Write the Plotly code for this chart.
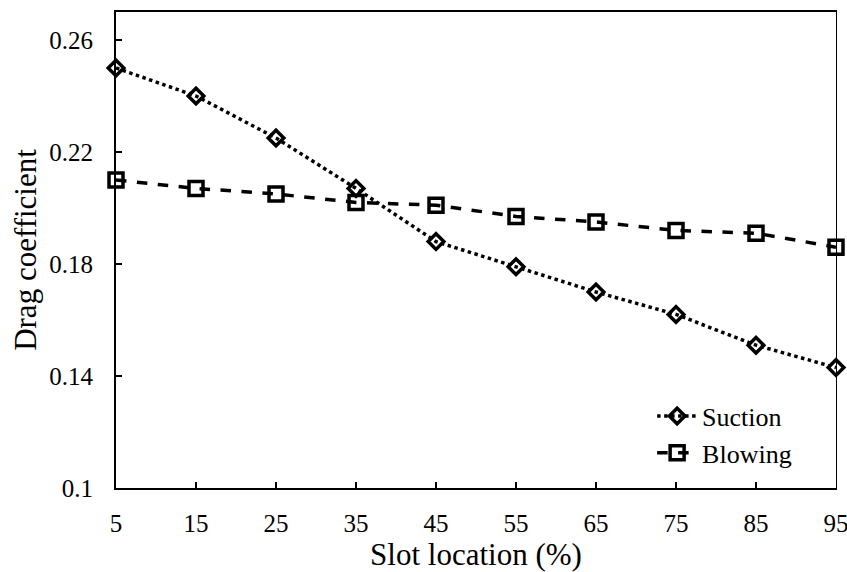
import plotly.graph_objects as go

slot_location = [5, 15, 25, 35, 45, 55, 65, 75, 85, 95]
suction = [0.250, 0.240, 0.225, 0.207, 0.188, 0.179, 0.170, 0.162, 0.151, 0.143]
blowing = [0.210, 0.207, 0.205, 0.202, 0.201, 0.197, 0.195, 0.192, 0.191, 0.186]
y_ticks = [0.10, 0.14, 0.18, 0.22, 0.26]
y_tick_labels = ["0.1", "0.14", "0.18", "0.22", "0.26"]

font_family = "Liberation Serif"

fig = go.Figure()
fig.add_trace(go.Scatter(
    x=slot_location, y=suction, name="Suction", mode="lines+markers",
    line=dict(color="black", width=3.5, dash="dot"),
    marker=dict(symbol="diamond-open", size=12, color="black", line=dict(width=3.5, color="black")),
    cliponaxis=False,
))
fig.add_trace(go.Scatter(
    x=slot_location, y=blowing, name="Blowing", mode="lines+markers",
    line=dict(color="black", width=3.5, dash="dash"),
    marker=dict(symbol="square-open", size=14, color="black", line=dict(width=3.5, color="black")),
    cliponaxis=False,
))
# empty trace to activate the border (top/right) axes
fig.add_trace(go.Scatter(x=[None], y=[None], xaxis="x2", yaxis="y2", showlegend=False, hoverinfo="skip"))

fig.update_layout(
    width=847, height=572,
    margin=dict(l=116, r=11, t=12, b=84),
    paper_bgcolor="white", plot_bgcolor="white",
    font=dict(family=font_family, size=25, color="black"),
    showlegend=True,
    legend=dict(x=0.946, y=0.024, xanchor="right", yanchor="bottom",
                bgcolor="rgba(0,0,0,0)", font=dict(family=font_family, size=26), tracegroupgap=0,
                itemwidth=40),
    xaxis=dict(
        range=[5, 95], tickvals=slot_location, ticks="inside", ticklen=6, tickwidth=2,
        tickcolor="black", showline=True, linecolor="black", linewidth=2,
        showgrid=False, zeroline=False, ticklabelstandoff=12, ticklabeloverflow="allow",
        automargin=False,
        tickfont=dict(family=font_family, size=25),
        title=dict(text="Slot location (%)", font=dict(family=font_family, size=31), standoff=9),
    ),
    xaxis2=dict(overlaying="x", side="top", showline=True, linecolor="black", linewidth=2,
                showticklabels=False, ticks="", showgrid=False, zeroline=False, range=[5, 95],
                automargin=False),
    yaxis=dict(
        range=[0.10, 0.27], tickvals=y_ticks, ticktext=y_tick_labels, ticks="inside",
        ticklen=6, tickwidth=2, tickcolor="black", showline=True, linecolor="black",
        linewidth=2, showgrid=False, zeroline=False, ticklabelstandoff=16, automargin=False,
        tickfont=dict(family=font_family, size=25),
        title=dict(text="Drag coefficient", font=dict(family=font_family, size=31), standoff=3),
    ),
    yaxis2=dict(overlaying="y", side="right", showline=True, linecolor="black", linewidth=1,
                showticklabels=False, ticks="", showgrid=False, zeroline=False, range=[0.10, 0.27],
                automargin=False),
)

fig.write_html("out.html")
